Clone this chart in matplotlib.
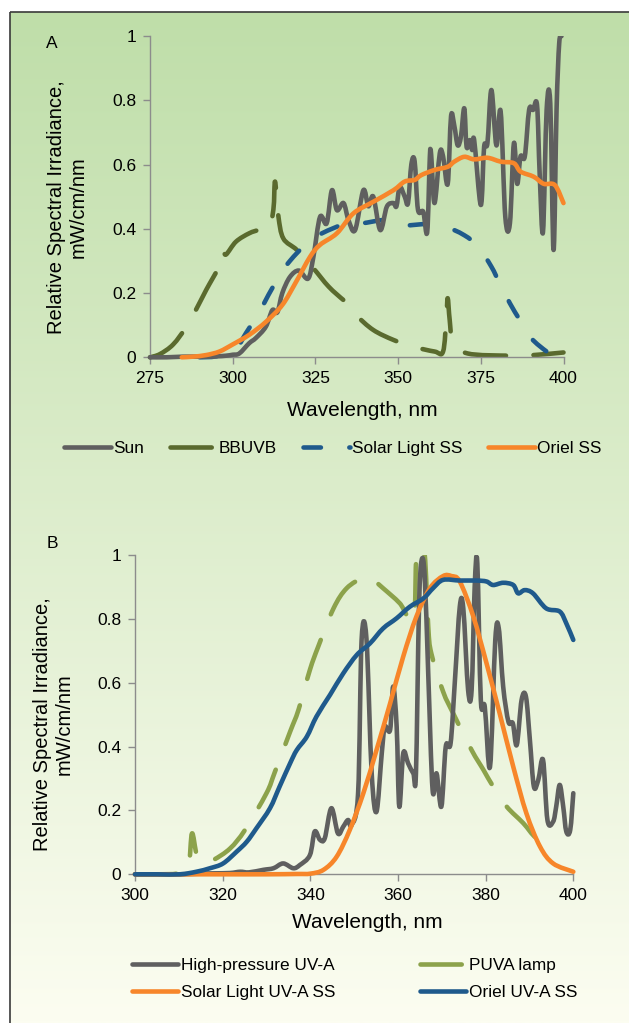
import numpy as np
import matplotlib
matplotlib.use("Agg")
import matplotlib.pyplot as plt
from matplotlib.lines import Line2D
from matplotlib.path import Path
from matplotlib.patches import PathPatch, Rectangle

plt.rcParams['font.family'] = ['Liberation Sans', 'DejaVu Sans']

# ---------------- Panel A data ----------------
sun_wl = [275, 280, 285, 290, 295, 298, 300, 302, 305, 307, 310, 312, 313.5, 315, 317.3, 320, 322.8,
          324.4, 326.4, 328.4, 330, 331.5, 333.5, 335, 337, 339.5, 341, 342.5, 344.6, 346.6, 348.6,
          349.5, 350.5, 352, 353, 354, 355, 356, 357.6, 358.8, 359.6, 360, 361, 362.6, 363.6, 365,
          366, 367, 368, 369, 370, 370.7, 371.7, 372.4, 373, 375, 376, 377, 378.2, 379.7, 381, 382.4,
          383.8, 385, 386, 387, 388.3, 389.6, 390.8, 392, 392.8, 393.8, 394.9, 396, 397, 397.9, 398.7, 399.4]
sun_val = [0, 0, 0.002, 0.002, 0.003, 0.005, 0.008, 0.012, 0.044, 0.06, 0.095, 0.147, 0.14, 0.2, 0.25, 0.27, 0.245,
           0.313, 0.437, 0.417, 0.52, 0.458, 0.48, 0.427, 0.396, 0.52, 0.47, 0.5, 0.396, 0.469, 0.48,
           0.47, 0.53, 0.5, 0.48, 0.60, 0.61, 0.46, 0.453, 0.39, 0.625, 0.63, 0.48, 0.635, 0.625, 0.54,
           0.75, 0.72, 0.66, 0.687, 0.775, 0.655, 0.676, 0.645, 0.676, 0.474, 0.655, 0.666, 0.832, 0.66, 0.765, 0.438,
           0.417, 0.666, 0.54, 0.625, 0.625, 0.77, 0.77, 0.785, 0.57, 0.39, 0.77, 0.79, 0.334, 0.77, 0.977, 1.0]

bbuvb_wl = [275, 278, 282, 286, 289, 292, 295.7, 297, 298, 301, 305, 308, 310.8, 312.3, 312.8, 313.8,
            315.3, 319.4, 324.4, 329, 333.5, 335, 337.5, 342.5, 348.6, 354.5, 361, 363.6, 364.6, 365,
            365.6, 366.6, 371, 384, 391, 400]
bbuvb_val = [0.0, 0.01, 0.04, 0.095, 0.15, 0.21, 0.28, 0.33, 0.32, 0.36, 0.386, 0.396, 0.396, 0.46, 0.547, 0.44,
             0.37, 0.334, 0.277, 0.22, 0.178, 0.168, 0.13, 0.085, 0.054, 0.033, 0.018, 0.018, 0.127, 0.184,
             0.116, 0.049, 0.012, 0.005, 0.007, 0.015]

slss_wl = [290, 295, 300, 302, 304, 308, 310.8, 314.3, 317.3, 322.4, 327, 334.5, 339, 345.6, 349, 351.6,
           359, 363.6, 370, 374.2, 378.2, 380.7, 383.8, 386.8, 390.3, 394.9, 397, 400]
slss_val = [0.0, 0.003, 0.02, 0.04, 0.075, 0.14, 0.194, 0.256, 0.30, 0.355, 0.386, 0.417, 0.417, 0.427, 0.417, 0.41,
            0.415, 0.41, 0.38, 0.344, 0.282, 0.23, 0.168, 0.116, 0.059, 0.018, 0.007, 0.005]

oriel_wl = [284.6, 288, 292, 296, 300, 305, 310, 315, 318.9, 323.4, 326.4, 331.5, 336.5, 342.5, 348.6,
            352, 355, 357, 361, 365, 367, 370, 373, 377, 381, 385, 387, 391, 394, 397.4, 400]
oriel_val = [0, 0.002, 0.007, 0.018, 0.04, 0.07, 0.11, 0.163, 0.23, 0.313, 0.35, 0.386, 0.448, 0.484, 0.52,
             0.547, 0.552, 0.567, 0.583, 0.593, 0.609, 0.624, 0.616, 0.621, 0.609, 0.604, 0.578, 0.562, 0.54, 0.536, 0.48]

# ---------------- Panel B data ----------------
hp_wl = [300, 305, 310, 315, 318, 321.7, 324, 326, 329.3, 331.6, 333.8, 336.1, 337.6, 339.9, 341, 342.2, 343.3,
         344.8, 346.3, 347.5, 348.6, 349.4, 350.9, 351.7, 352.8, 354, 355.1, 356.3, 357, 358.2, 358.9,
         359.7, 360.3, 361.2, 362.3, 363.5, 364.1, 364.8, 365.4, 366.1, 366.9, 367.9, 368.8, 369.9,
         370.9, 372, 373, 374.1, 374.9, 376, 376.8, 377.5, 378.1, 378.9, 379.8, 381, 382.2, 383, 384,
         385.2, 386.2, 387.1, 388.2, 389.2, 390.1, 391, 392, 393.1, 394.1, 395.4, 396.1, 396.9, 397.7,
         398.4, 399.3, 400]
hp_val = [0, 0, 0, 0.002, 0.003, 0.004, 0.008, 0.006, 0.014, 0.019, 0.034, 0.019, 0.029, 0.06, 0.134, 0.108, 0.113,
          0.207, 0.128, 0.149, 0.17, 0.154, 0.254, 0.734, 0.739, 0.316, 0.196, 0.379, 0.462, 0.452, 0.588,
          0.462, 0.212, 0.379, 0.348, 0.316, 0.316, 0.838, 0.984, 0.932, 0.629, 0.264, 0.316, 0.212,
          0.40, 0.41, 0.609, 0.838, 0.833, 0.577, 0.577, 0.90, 0.974, 0.546, 0.525, 0.337, 0.734, 0.77, 0.588,
          0.478, 0.473, 0.405, 0.546, 0.556, 0.42, 0.275, 0.295, 0.358, 0.17, 0.165, 0.212, 0.28, 0.212,
          0.134, 0.139, 0.254]

puva_wl = [300, 305, 309.5, 310.3, 312.2, 313, 314.1, 315.6, 317.9, 321.7, 325.1, 330, 331.9, 335.4, 337.3,
           339.9, 341.8, 345.3, 348.3, 352.1, 353.6, 356.6, 360.4, 363.5, 364.2, 365, 366.1, 366.9, 367.6,
           370.3, 372.6, 376.8, 379.5, 381.7, 384.8, 388.6, 391.6, 396.1]
puva_val = [0, 0, 0.002, 0.014, 0.024, 0.128, 0.06, 0.034, 0.045, 0.081, 0.139, 0.254, 0.32, 0.447, 0.515,
            0.64, 0.713, 0.833, 0.896, 0.93, 0.93, 0.896, 0.849, 0.796, 1.0, 1.0, 1.0, 0.776, 0.692,
            0.572, 0.504, 0.389, 0.327, 0.275, 0.212, 0.16, 0.113, 0.081]

sluva_wl = [300, 310, 320, 330, 337, 340, 343, 346, 349, 352.1, 355.1, 358.2, 361.2, 364.2, 367.3, 370.3, 372.2, 374.1,
            377.2, 380.2, 383.2, 386.3, 389.3, 392.4, 395.4, 400]
sluva_val = [0, 0, 0, 0, 0.001, 0.002, 0.014, 0.055, 0.139, 0.254, 0.389, 0.535, 0.682, 0.807, 0.896, 0.934, 0.934, 0.917,
             0.807, 0.661, 0.504, 0.337, 0.191, 0.087, 0.034, 0.008]

oruva_wl = [300, 305, 310.3, 314, 317.1, 320.1, 323.2, 325.5, 327.7, 330.8, 333, 335.4, 336.9, 339.2, 341.4,
            344.5, 347.5, 350.6, 353.6, 356.6, 359.7, 362.7, 365.8, 368, 370.3, 374.1, 377.9, 380.2,
            381.7, 384, 386.3, 387.4, 388.9, 390.8, 393.8, 396.9, 398.4, 400]
oruva_val = [0, 0, 0, 0.008, 0.019, 0.034, 0.071, 0.102, 0.144, 0.207, 0.275, 0.348, 0.389, 0.431, 0.494,
             0.562, 0.629, 0.687, 0.723, 0.77, 0.802, 0.838, 0.864, 0.896, 0.922, 0.92, 0.92, 0.917,
             0.906, 0.913, 0.906, 0.88, 0.89, 0.88, 0.833, 0.823, 0.786, 0.734]

yticks = [0, 0.2, 0.4, 0.6, 0.8, 1.0]
ytick_labels = ['0', '0.2', '0.4', '0.6', '0.8', '1']
xticks_a = [275, 300, 325, 350, 375, 400]
xticks_b = [300, 320, 340, 360, 380, 400]

GRAY = '#5f5f5f'
OLIVE = '#5a6a2e'
LGREEN = '#8ca24b'
BLUE = '#1f5a8c'
ORANGE = '#f7862a'
SPINE = '#8c8c8c'
LW = 3.3

W, H = 629, 1023
fig = plt.figure(figsize=(W / 100, H / 100), dpi=100)

# background gradient + frame
bg = fig.add_axes([0, 0, 1, 1], zorder=-10)
bg.set_xlim(0, W)
bg.set_ylim(H, 0)
bg.axis('off')
top = np.array([191, 222, 169]) / 255
bot = np.array([252, 253, 241]) / 255
t = np.linspace(0, 1, 256)[:, None]
grad = (top[None, :] * (1 - t) + bot[None, :] * t)[:, None, :]
bg.imshow(grad, extent=(10, W, H, 12), aspect='auto', interpolation='bilinear')
bg.plot([10, 10], [H, 12], color='#3a3a3a', lw=1.2, solid_capstyle='butt')
bg.plot([10, W], [12, 12], color='#3a3a3a', lw=1.2, solid_capstyle='butt')


def fx(px):
    return px / W


def fy(py):
    return 1 - py / H


def style_axes(ax, xlim, xticks):
    ax.set_xlim(*xlim)
    ax.set_ylim(0, 1)
    ax.patch.set_alpha(0)
    for s in ['top', 'right']:
        ax.spines[s].set_visible(False)
    for s in ['left', 'bottom']:
        ax.spines[s].set_color(SPINE)
        ax.spines[s].set_linewidth(1.0)
    ax.set_xticks(xticks)
    ax.set_xticklabels([str(x) for x in xticks])
    ax.set_yticks(yticks)
    ax.set_yticklabels(ytick_labels)
    ax.tick_params(direction='out', length=5, width=1, color=SPINE, labelsize=12.5, pad=5)


def smooth_line(ax, x, y, color, label, dashes=None, zorder=2):
    """Excel-style smoothed line drawn as cubic Bezier path through the points."""
    x = np.asarray(x, float)
    y = np.asarray(y, float)
    n = len(x)
    verts = [(x[0], y[0])]
    codes = [Path.MOVETO]
    for i in range(n - 1):
        p0 = np.array([x[max(i - 1, 0)], y[max(i - 1, 0)]])
        p1 = np.array([x[i], y[i]])
        p2 = np.array([x[i + 1], y[i + 1]])
        p3 = np.array([x[min(i + 2, n - 1)], y[min(i + 2, n - 1)]])
        c1 = p1 + (p2 - p0) / 6.0
        c2 = p2 - (p3 - p1) / 6.0
        c1[0] = min(max(c1[0], p1[0]), p2[0])
        c2[0] = min(max(c2[0], p1[0]), p2[0])
        verts += [tuple(c1), tuple(c2), tuple(p2)]
        codes += [Path.CURVE4] * 3
    kw = dict(fill=False, edgecolor=color, lw=LW, joinstyle='round', capstyle='round', zorder=zorder)
    if dashes is not None:
        kw['linestyle'] = (0, dashes)
    patch = PathPatch(Path(verts, codes), **kw)
    ax.add_patch(patch)
    clip = Rectangle((-0.1, -0.1), 1.2, 1.1, transform=ax.transAxes, visible=False)
    ax.add_patch(clip)
    patch.set_clip_path(clip)
    handle = Line2D([], [], color=color, lw=LW, solid_capstyle='round', dash_capstyle='round',
                    label=label)
    if dashes is not None:
        handle.set_dashes(dashes)
    return handle


axA = fig.add_axes([fx(150), fy(357.3), fx(563.5) - fx(150), fy(36) - fy(357.3)])
style_axes(axA, (275, 400), xticks_a)
hA = [
    smooth_line(axA, sun_wl, sun_val, GRAY, 'Sun', zorder=3),
    smooth_line(axA, bbuvb_wl, bbuvb_val, OLIVE, 'BBUVB', dashes=(9, 6), zorder=2),
    smooth_line(axA, slss_wl, slss_val, BLUE, 'Solar Light SS', dashes=(3.8, 6.2), zorder=2),
    smooth_line(axA, oriel_wl, oriel_val, ORANGE, 'Oriel SS', zorder=4),
]

axB = fig.add_axes([fx(135), fy(874.3), fx(573.3) - fx(135), fy(555) - fy(874.3)])
style_axes(axB, (300, 400), xticks_b)
hB = [
    smooth_line(axB, hp_wl, hp_val, GRAY, 'High-pressure UV-A', zorder=2),
    smooth_line(axB, puva_wl, puva_val, LGREEN, 'PUVA lamp', dashes=(9, 6), zorder=1),
    smooth_line(axB, sluva_wl, sluva_val, ORANGE, 'Solar Light UV-A SS', zorder=3),
    smooth_line(axB, oruva_wl, oruva_val, BLUE, 'Oriel UV-A SS', zorder=4),
]

# panel letters
fig.text(fx(52), fy(43), 'A', fontsize=12.5, ha='center', va='center')
fig.text(fx(52), fy(544), 'B', fontsize=12.5, ha='center', va='center')

ylab = 'Relative Spectral Irradiance,\nmW/cm/nm'
fig.text(fx(67.5), fy(207), ylab, rotation=90, fontsize=14.5, ha='center', va='center',
         multialignment='center')
fig.text(fx(53.5), fy(724), ylab, rotation=90, fontsize=14.5, ha='center', va='center',
         multialignment='center')

fig.text(fx(362), fy(410), 'Wavelength, nm', fontsize=15, ha='center', va='center')
fig.text(fx(367), fy(923), 'Wavelength, nm', fontsize=15, ha='center', va='center')

# legends
fig.legend(hA, [h.get_label() for h in hA], loc='center', bbox_to_anchor=(fx(333), fy(448)),
           ncol=4, frameon=False, fontsize=12.4, handlelength=2.7, handletextpad=0.15,
           columnspacing=1.5, borderpad=0)
order = [0, 2, 1, 3]
fig.legend([hB[i] for i in order], [hB[i].get_label() for i in order], loc='center',
           bbox_to_anchor=(fx(354.5), fy(979)), ncol=2, frameon=False,
           fontsize=12.4, handlelength=2.7, handletextpad=0.15, columnspacing=4.9,
           labelspacing=0.7, borderpad=0)

fig.savefig('out.png', dpi=100)
